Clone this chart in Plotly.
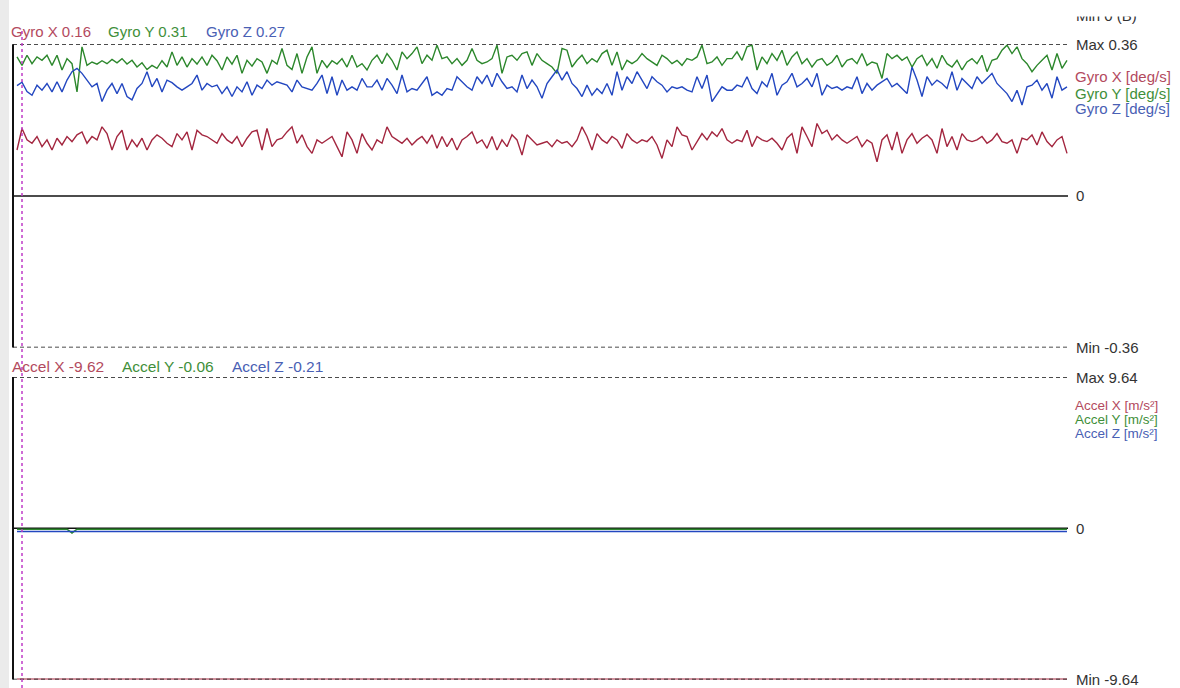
import plotly.graph_objects as go

# ---- Gyro channels [deg/s], one sample every step along the time axis ----
gyro_x = [
    0.109, 0.160, 0.133, 0.125, 0.141, 0.117, 0.133, 0.109, 0.137, 0.121,
    0.141, 0.129, 0.145, 0.152, 0.125, 0.141, 0.133, 0.164, 0.148, 0.109,
    0.141, 0.156, 0.109, 0.133, 0.117, 0.137, 0.109, 0.133, 0.145, 0.137,
    0.125, 0.117, 0.148, 0.133, 0.152, 0.109, 0.156, 0.145, 0.141, 0.133,
    0.125, 0.148, 0.133, 0.125, 0.141, 0.117, 0.137, 0.152, 0.156, 0.109,
    0.160, 0.117, 0.133, 0.137, 0.152, 0.164, 0.125, 0.145, 0.117, 0.101,
    0.133, 0.125, 0.133, 0.141, 0.117, 0.093, 0.152, 0.133, 0.101, 0.148,
    0.125,
    0.109, 0.133, 0.125, 0.164, 0.141, 0.133, 0.125, 0.137, 0.121, 0.133,
    0.141, 0.125, 0.145, 0.113, 0.141, 0.117, 0.137, 0.109, 0.133, 0.141,
    0.152, 0.125, 0.133, 0.113, 0.141, 0.109, 0.133, 0.117, 0.145, 0.133,
    0.097, 0.145, 0.133, 0.121, 0.125, 0.129, 0.117, 0.133, 0.125, 0.129,
    0.117, 0.133, 0.164, 0.141, 0.109, 0.148, 0.133, 0.125, 0.141, 0.133,
    0.113, 0.148, 0.133, 0.125, 0.133, 0.129, 0.141, 0.121, 0.089, 0.133,
    0.117, 0.164, 0.145, 0.141, 0.109, 0.129, 0.148, 0.133, 0.152, 0.141,
    0.160, 0.133,
    0.125, 0.133, 0.129, 0.156, 0.117, 0.141, 0.133, 0.129, 0.137, 0.125,
    0.109, 0.137, 0.148, 0.101, 0.164, 0.141, 0.117, 0.172, 0.148, 0.156,
    0.133, 0.145, 0.133, 0.125, 0.133, 0.141, 0.117, 0.133, 0.125, 0.081,
    0.133, 0.145, 0.109, 0.152, 0.101, 0.133, 0.148, 0.125, 0.137, 0.145,
    0.133, 0.101, 0.160, 0.117, 0.141, 0.109, 0.148, 0.133, 0.129, 0.133,
    0.141, 0.125, 0.133, 0.148, 0.129, 0.125, 0.133, 0.101, 0.137, 0.133,
    0.145, 0.121, 0.152, 0.129, 0.117, 0.133, 0.141, 0.101,
]

gyro_y = [
    0.330, 0.310, 0.334, 0.314, 0.330, 0.322, 0.334, 0.310, 0.334, 0.299,
    0.326, 0.314, 0.247, 0.354, 0.310, 0.318, 0.313, 0.321, 0.314, 0.324,
    0.316, 0.326, 0.313, 0.322, 0.306, 0.316, 0.300, 0.310, 0.303, 0.321,
    0.306, 0.342, 0.310, 0.330, 0.306, 0.326, 0.313, 0.330, 0.310, 0.334,
    0.321, 0.299, 0.330, 0.313, 0.334, 0.291, 0.322, 0.308, 0.326, 0.318,
    0.291, 0.322, 0.313, 0.350, 0.310, 0.300, 0.338, 0.291, 0.330, 0.354,
    0.291, 0.322, 0.305, 0.321, 0.313, 0.326, 0.306, 0.334, 0.306, 0.314,
    0.299,
    0.322, 0.334, 0.314, 0.338, 0.322, 0.299, 0.342, 0.326, 0.338, 0.354,
    0.314, 0.334, 0.322, 0.358, 0.326, 0.330, 0.314, 0.326, 0.310, 0.322,
    0.350, 0.322, 0.314, 0.318, 0.326, 0.358, 0.291, 0.330, 0.334, 0.322,
    0.338, 0.342, 0.310, 0.338, 0.322, 0.314, 0.306, 0.291, 0.350, 0.346,
    0.306, 0.322, 0.334, 0.314, 0.326, 0.318, 0.338, 0.346, 0.310, 0.342,
    0.299, 0.322, 0.314, 0.322, 0.338, 0.326, 0.318, 0.310, 0.334, 0.326,
    0.314, 0.322, 0.310, 0.326, 0.322, 0.330, 0.358, 0.314, 0.318, 0.330,
    0.310, 0.326,
    0.326, 0.342, 0.322, 0.354, 0.358, 0.299, 0.330, 0.314, 0.338, 0.322,
    0.346, 0.310, 0.330, 0.342, 0.314, 0.326, 0.306, 0.322, 0.326, 0.310,
    0.318, 0.334, 0.306, 0.322, 0.326, 0.314, 0.338, 0.310, 0.318, 0.314,
    0.279, 0.338, 0.326, 0.334, 0.322, 0.330, 0.306, 0.326, 0.334, 0.310,
    0.326, 0.303, 0.334, 0.314, 0.306, 0.322, 0.299, 0.318, 0.326, 0.314,
    0.334, 0.295, 0.322, 0.326, 0.346, 0.358, 0.338, 0.354, 0.326, 0.314,
    0.295, 0.310, 0.322, 0.334, 0.299, 0.338, 0.303, 0.322,
]

gyro_z = [
    0.262, 0.270, 0.248, 0.239, 0.263, 0.251, 0.267, 0.247, 0.271, 0.247,
    0.275, 0.295, 0.303, 0.291, 0.275, 0.259, 0.267, 0.224, 0.251, 0.267,
    0.243, 0.267, 0.236, 0.228, 0.255, 0.267, 0.295, 0.259, 0.279, 0.247,
    0.275, 0.269, 0.259, 0.251, 0.259, 0.267, 0.287, 0.251, 0.267, 0.259,
    0.263, 0.243, 0.259, 0.236, 0.259, 0.247, 0.271, 0.239, 0.263, 0.255,
    0.275, 0.263, 0.271, 0.267, 0.263, 0.247, 0.275, 0.259, 0.255, 0.251,
    0.267, 0.287, 0.243, 0.283, 0.239, 0.275, 0.251, 0.259, 0.251, 0.279,
    0.259,
    0.259, 0.275, 0.251, 0.279, 0.263, 0.243, 0.287, 0.247, 0.255, 0.251,
    0.267, 0.283, 0.239, 0.247, 0.239, 0.255, 0.251, 0.283, 0.271, 0.259,
    0.251, 0.283, 0.267, 0.287, 0.259, 0.291, 0.271, 0.255, 0.259, 0.247,
    0.287, 0.255, 0.275, 0.259, 0.232, 0.267, 0.283, 0.299, 0.275, 0.295,
    0.267, 0.255, 0.236, 0.263, 0.239, 0.255, 0.243, 0.267, 0.239, 0.295,
    0.251, 0.283, 0.267, 0.295, 0.275, 0.255, 0.283, 0.271, 0.263, 0.247,
    0.259, 0.255, 0.259, 0.251, 0.247, 0.283, 0.255, 0.287, 0.224, 0.243,
    0.259, 0.251,
    0.251, 0.263, 0.259, 0.283, 0.255, 0.243, 0.271, 0.259, 0.291, 0.239,
    0.263, 0.271, 0.291, 0.259, 0.267, 0.279, 0.259, 0.291, 0.239, 0.263,
    0.255, 0.259, 0.251, 0.259, 0.255, 0.283, 0.243, 0.267, 0.251, 0.263,
    0.271, 0.279, 0.259, 0.267, 0.255, 0.243, 0.306, 0.275, 0.236, 0.283,
    0.263, 0.275, 0.267, 0.255, 0.295, 0.251, 0.279, 0.267, 0.255, 0.283,
    0.267, 0.279, 0.291, 0.267, 0.255, 0.243, 0.224, 0.251, 0.216, 0.259,
    0.263, 0.275, 0.251, 0.267, 0.232, 0.283, 0.251, 0.259,
]

# ---- Accelerometer channels [m/s^2] (near-constant, sampled at breakpoints) ----
accel_t = [0, 10, 11, 12, 210]
accel_x = [-9.62, -9.62, -9.62, -9.62, -9.62]
accel_y = [-0.06, -0.06, -0.30, -0.06, -0.06]
accel_z = [-0.21, -0.21, -0.21, -0.21, -0.21]

gyro_max = 0.36
accel_max = 9.64
cursor_idx = 1

gyro_names = ["Gyro X", "Gyro Y", "Gyro Z"]
accel_names = ["Accel X", "Accel Y", "Accel Z"]
gyro_unit = "[deg/s]"
accel_unit = "[m/s²]"

t = list(range(len(gyro_x)))

RED, GREEN, BLUE = "#a3263f", "#2c872c", "#2347c0"
TXT_RED, TXT_GREEN, TXT_BLUE = "#b34a5e", "#3f8f3a", "#4960b4"
FONT = "Liberation Sans, Arial, sans-serif"

W, H = 1180, 688
ML, MR = 13, 112
PW = W - ML - MR


def xp(px):
    return (px - ML) / PW


def yp(px):
    return 1 - px / H


fig = go.Figure()

for vals, col in ((gyro_x, RED), (gyro_y, GREEN), (gyro_z, BLUE)):
    fig.add_trace(go.Scatter(x=t, y=vals, mode="lines", yaxis="y",
                             line=dict(color=col, width=1.4), hoverinfo="skip"))

for vals, col in ((accel_x, RED), (accel_y, GREEN), (accel_z, BLUE)):
    fig.add_trace(go.Scatter(x=accel_t, y=vals, mode="lines", yaxis="y2",
                             line=dict(color=col, width=1.6), hoverinfo="skip"))

shapes = []
# light strip at the far left
shapes.append(dict(type="rect", xref="paper", yref="paper", x0=xp(0), x1=xp(9),
                   y0=0, y1=1, fillcolor="#ebebeb", line=dict(width=0), layer="below"))

dash = dict(color="#111111", width=1.5, dash="4px,3px")
for ax, lim in (("y", gyro_max), ("y2", accel_max)):
    # zero line
    shapes.append(dict(type="line", xref="paper", yref=ax, x0=0, x1=1, y0=0, y1=0,
                       line=dict(color="#111111", width=1.5), layer="below"))
    # max / min guide lines
    for v in (lim, -lim):
        shapes.append(dict(type="line", xref="paper", yref=ax, x0=0, x1=1, y0=v, y1=v,
                           line=dash, layer="above"))
    # left axis bar of the panel
    shapes.append(dict(type="line", xref="paper", yref=ax + " domain", x0=0, x1=0,
                       y0=0, y1=1, line=dict(color="#111111", width=2), layer="above"))

# time cursor
shapes.append(dict(type="line", xref="x", yref="paper", x0=cursor_idx, x1=cursor_idx,
                   y0=0, y1=yp(28), line=dict(color="#c03cc8", width=1.5, dash="3px,3px"),
                   layer="above"))

annotations = []


def label(text, x, y, color, size, yref="paper", xanchor="left"):
    annotations.append(dict(text=text, x=x, y=y, xref="paper", yref=yref,
                            xanchor=xanchor, yanchor="middle", showarrow=False,
                            font=dict(family=FONT, size=size, color=color)))


# cursor readouts
gyro_vals = (gyro_x[cursor_idx], gyro_y[cursor_idx], gyro_z[cursor_idx])
accel_vals = (accel_x[0], accel_y[0], accel_z[0])
for name, v, col, px in zip(gyro_names, gyro_vals, (TXT_RED, TXT_GREEN, TXT_BLUE), (9, 106, 204)):
    label(f"{name} {v:.2f}", xp(px), yp(32), col, 15)
for name, v, col, px in zip(accel_names, accel_vals, (TXT_RED, TXT_GREEN, TXT_BLUE), (10, 120, 230)):
    label(f"{name} {v:.2f}", xp(px), yp(367), col, 15.5)

# scale labels on the right
for ax, lim in (("y", gyro_max), ("y2", accel_max)):
    label(f"Max {lim:.2f}", xp(1074), lim, "#333333", 15, yref=ax)
    label("0", xp(1074), 0, "#333333", 15, yref=ax)
    label(f"Min {-lim:.2f}", xp(1074), -lim, "#333333", 15, yref=ax)

# channel legends
for name, col, py in zip(gyro_names, (TXT_RED, TXT_GREEN, TXT_BLUE), (77, 93, 109)):
    label(f"{name} {gyro_unit}", xp(1073), yp(py), col, 15)
for name, col, py in zip(accel_names, (TXT_RED, TXT_GREEN, TXT_BLUE), (405, 419, 433)):
    label(f"{name} {accel_unit}", xp(1073), yp(py), col, 13.5)

# upper label, partly scrolled out of view
label("Min 0 (B)", xp(1074), yp(15), "#333333", 15)
annotations.append(dict(text=".", x=xp(1070), y=1, xref="paper", yref="paper",
                        xanchor="left", yanchor="top", showarrow=False,
                        width=110, height=13, bgcolor="white",
                        font=dict(color="white", size=8)))

fig.update_layout(
    width=W, height=H,
    margin=dict(l=ML, r=MR, t=0, b=0, pad=0),
    paper_bgcolor="white", plot_bgcolor="white",
    showlegend=False,
    xaxis=dict(range=[-0.8, 210.2], visible=False, fixedrange=True),
    yaxis=dict(domain=[yp(347.5), yp(44.3)], range=[-gyro_max, gyro_max], visible=False),
    yaxis2=dict(domain=[yp(679.5), yp(377)], range=[-accel_max, accel_max], visible=False,
                anchor="x"),
    shapes=shapes,
    annotations=annotations,
)

fig.write_html("out.html", config={"displayModeBar": False})
